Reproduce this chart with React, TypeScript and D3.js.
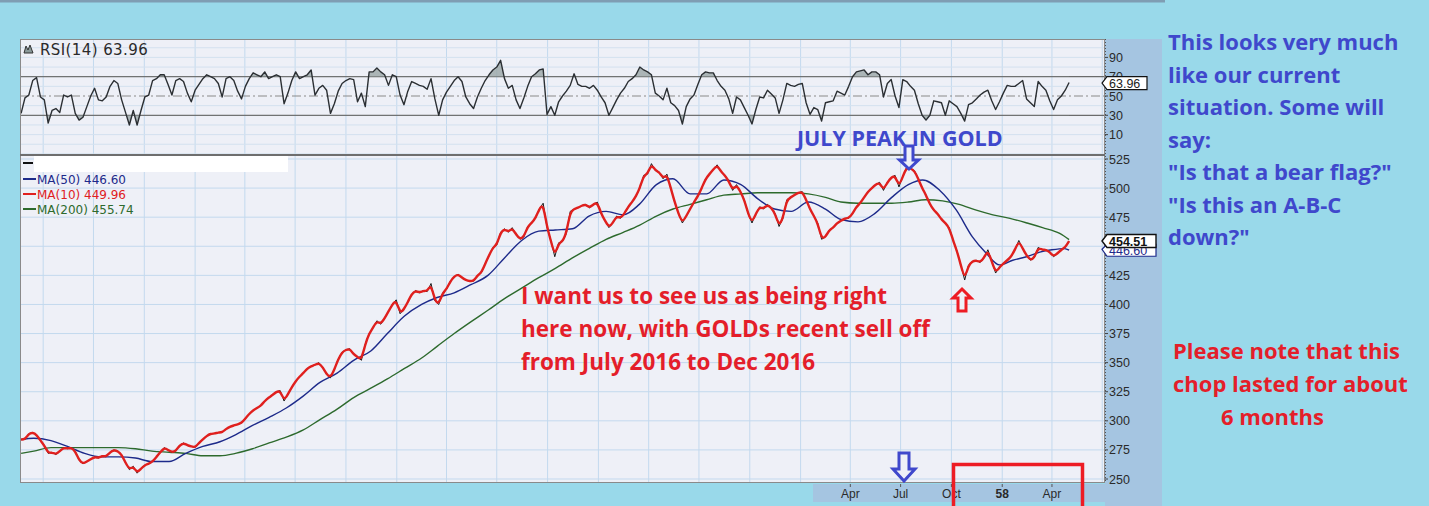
import React from "react";
import * as d3 from "d3";

// ---------- DATA (weekly closes from 1953-02-20) ----------
const START_WEEK = "1953-02-20";
const DOMAIN_START = "1953-02-18";
const DOMAIN_END = "1958-07-06";

const price1953 = [284,284,289,290,288, 283,279,272,273,271, 274,277,276,277,274, 266,263,265,267,269, 268,270,269,273,275, 274,271,264,258,261, 255,259,262,263,265, 269,273,277,275,273, 274,279,281,279,278];
const price1954 = [277,281,284,287,289, 289,290,290,293,295, 296,297,298,302,306, 309,311,313,317,320, 322,325,326,317,323, 329,334,338,341,345, 347,348,350,346,340, 337,344,353,359,361, 362,357,355,352,366, 375,380,386,383,388, 394,400,404];
const price1955 = [392,396,402,409,412, 410,412,411,418,403, 400,410,413,420,424, 426,423,421,420,420, 425,427,435,442,449, 451,462,465,462,466, 460,456,458,467,470, 474,482,487,466,455, 441,453,454,461,480, 482,483,485,486,483, 486,488];
const price1956 = [478,472,466,470,476, 474,478,484,488,493, 500,511,512,521,515, 514,508,512,500,488, 478,470,476,482,488, 493,500,508,512,516, 520,514,511,506,498, 503,497,490,478,470, 478,484,482,486,483, 478,467,474,490,492, 494,496];
const price1957 = [497,490,482,476,470, 456,458,464,466,470, 472,474,474,478,484, 487,492,497,500,503, 505,498,505,509,511, 501,510,518,517,515, 508,500,494,486,481, 478,473,470,466,455, 446,434,421,434,437, 438,436,440,447,437, 427,432];
const price1958 = [435,438,441,447,455, 448,442,438,440,449, 447,447,445,441,444, 447,449,454.51];

const rsi1953 = [32,48,51,66,69, 49,46,22,35,37, 33,51,49,51,32, 25,28,39,50,58, 46,45,49,60,66, 63,46,33,20,35, 20,35,49,51,66, 68,72,72,62,51, 66,68,65,53,44];
const rsi1954 = [56,62,68,72,70, 68,63,49,68,70, 66,55,47,60,68, 74,72,70,75,68, 70,72,70,42,53, 66,75,68,70,72, 77,51,58,61,56, 32,42,55,63,66, 68,67,44,53,39, 75,75,79,75,72, 61,72,70];
const rsi1955 = [51,41,55,65,63, 61,60,57,68,47, 30,46,54,60,66, 70,65,49,42,37, 49,58,66,72,77, 80,87,68,58,61, 46,37,48,60,70, 73,77,78,31,39, 30,44,50,55,61, 73,62,60,60,58, 61,56];
const rsi1956 = [49,43,30,38,46, 53,58,65,68,72, 80,77,75,72,53, 50,46,58,43,40, 35,21,39,47,51, 62,72,75,74,74, 66,60,56,47,32, 49,46,38,30,21, 36,49,48,56,52, 48,32,46,63,61, 60,62];
const rsi1957 = [63,43,31,38,36, 24,43,44,45,55, 53,51,60,70,75, 76,77,72,75,75, 72,49,63,67,50, 38,67,65,60,56, 42,30,25,30,45, 44,43,30,45,42, 39,32,24,41,43, 47,51,54,56,45, 36,44];
const rsi1958 = [53,61,60,60,63, 66,47,43,39,65, 60,56,45,36,46, 50,56,63.96];

const ma50Dates = ["1953-02-20","1953-03-15","1953-04-15","1953-05-15","1953-06-15","1953-07-15","1953-08-15","1953-09-15","1953-10-15","1953-11-15","1953-12-15",
  "1954-01-15","1954-02-15","1954-03-15","1954-04-15","1954-05-15","1954-06-15","1954-07-15","1954-08-15","1954-09-15","1954-10-15","1954-11-15","1954-12-15",
  "1955-01-15","1955-02-15","1955-03-15","1955-04-15","1955-05-15","1955-06-15","1955-07-15","1955-08-15","1955-09-15","1955-10-15","1955-11-15","1955-12-15",
  "1956-01-15","1956-02-15","1956-03-15","1956-04-15","1956-05-15","1956-06-15","1956-07-15","1956-08-15","1956-09-15","1956-10-15","1956-11-15","1956-12-15",
  "1957-01-15","1957-02-15","1957-03-15","1957-04-15","1957-05-15","1957-06-15","1957-07-15","1957-08-10","1957-09-10","1957-10-10","1957-11-08","1957-12-03","1957-12-27",
  "1958-01-20","1958-02-14","1958-03-10","1958-04-01","1958-04-24","1958-05-02"];
const ma50Values = [284,285,283,278,272,269,269,268,265,265,272,
  278,282,288,296,303,311,321,333,341,352,360,375,
  390,400,406,410,417,425,440,455,463,464,465,476,
  480,477,486,503,508,495,495,507,503,491,482,480,
  488,482,473,471,478,492,503,507,498,481,458,444,434,
  438,441,445,447,448,446.6];

const ma200Dates = ["1953-02-20","1953-03-15","1953-04-15","1953-06-15","1953-08-15","1953-09-15","1953-10-15","1953-11-15","1953-12-15",
  "1954-01-15","1954-02-15","1954-03-15","1954-04-15","1954-05-15","1954-06-15","1954-07-15","1954-08-15","1954-09-15","1954-10-15","1954-11-15","1954-12-15",
  "1955-01-15","1955-02-15","1955-03-15","1955-04-15","1955-05-15","1955-06-15","1955-07-15","1955-08-15","1955-09-15","1955-10-15","1955-11-15","1955-12-15",
  "1956-01-15","1956-02-15","1956-03-15","1956-04-15","1956-05-15","1956-06-15","1956-07-15","1956-08-15","1956-09-15","1956-10-15","1956-11-15","1956-12-15",
  "1957-01-15","1957-02-15","1957-03-15","1957-04-15","1957-05-15","1957-06-15","1957-07-15","1957-08-15","1957-09-15","1957-10-15","1957-11-15","1957-12-15",
  "1958-01-15","1958-02-15","1958-03-15","1958-04-15","1958-05-02"];
const ma200Values = [272,274,277,277,277,276,274,273,272,
  270,270,272,276,281,286,292,301,310,320,328,336,
  345,354,364,375,385,395,405,414,423,431,440,448,
  456,462,468,476,482,486,490,494,495,496,496,496,
  495,492,488,487,487,487,488,490,489,486,481,477,
  474,470,466,461,455.7];

const priceTicks = [250,275,300,325,350,375,400,425,450,475,500,525];
const rsiTicks = [10,30,50,70,90];
const rsiGrid = [-10,0,10,20,40,60,80,90,100];
const xLabelDates = ["1957-04-01","1957-07-01","1957-10-01","1958-01-01","1958-04-01"];
const xLabelTexts = ["Apr","Jul","Oct","58","Apr"];

const legendNames = ["MA(50) 446.60","MA(10) 449.96","MA(200) 455.74"];
const legendColors = ["#1d2a8a","#e0201e","#2d6a2d"];

const blueNote = ["This looks very much","like our current","situation. Some will","say:","\"Is that a bear flag?\"","\"Is this an A-B-C","down?\""];
const redMiddle = ["I want us to see us as being right","here now, with GOLDs recent sell off","from July 2016 to Dec 2016"];
const redNote = ["Please note that this","chop lasted for about","6 months"];

// ---------- COMPONENT ----------
const BG = "#99d9ea";
const PANEL = "#eef0f7";
const AXISBG = "#a5c5e1";
const GRID = "#c3d9ee";
const BLUE_TXT = "#3f48cc";
const RED_TXT = "#e41e2a";

function arrowDown(cx: number, top: number, bottom: number, sw: number, hw: number, hh: number) {
  return `M${cx - sw / 2},${top}L${cx + sw / 2},${top}L${cx + sw / 2},${bottom - hh}L${cx + hw / 2},${bottom - hh}L${cx},${bottom}L${cx - hw / 2},${bottom - hh}L${cx - sw / 2},${bottom - hh}Z`;
}
function arrowUp(cx: number, top: number, bottom: number, sw: number, hw: number, hh: number) {
  return `M${cx},${top}L${cx + hw / 2},${top + hh}L${cx + sw / 2},${top + hh}L${cx + sw / 2},${bottom}L${cx - sw / 2},${bottom}L${cx - sw / 2},${top + hh}L${cx - hw / 2},${top + hh}Z`;
}

export default function App() {
  const parse = d3.timeParse("%Y-%m-%d");
  const start = parse(START_WEEK)!;
  const prices = [...price1953, ...price1954, ...price1955, ...price1956, ...price1957, ...price1958];
  const rsi = [...rsi1953, ...rsi1954, ...rsi1955, ...rsi1956, ...rsi1957, ...rsi1958];
  const weeks = prices.map((_, i) => d3.timeDay.offset(start, 7 * i));

  const L = 20, R = 1105;
  const rsiTop = 39, rsiBot = 155, pTop = 155, pBot = 483;

  const x = d3.scaleTime().domain([parse(DOMAIN_START)!, parse(DOMAIN_END)!]).range([L, R]);
  const y = d3.scaleLinear().domain([250, 525]).range([479, 159]);
  const yr = d3.scaleLinear().domain([10, 90]).range([134.6, 57.4]);

  const quarters = x.ticks(d3.timeMonth.every(3)!);

  const priceSeries = prices.map((v, i) => ({ d: weeks[i], v }));
  const rsiSeries = rsi.map((v, i) => ({ d: weeks[i], v }));
  const ma50 = ma50Dates.map((s, i) => ({ d: parse(s)!, v: ma50Values[i] }));
  const ma200 = ma200Dates.map((s, i) => ({ d: parse(s)!, v: ma200Values[i] }));

  const lineP = d3.line<{ d: Date; v: number }>().x(p => x(p.d)).y(p => y(p.v));
  const lineSmooth = d3.line<{ d: Date; v: number }>().x(p => x(p.d)).y(p => y(p.v)).curve(d3.curveBasis);
  const lineMA = d3.line<{ d: Date; v: number }>().x(p => x(p.d)).y(p => y(p.v)).curve(d3.curveMonotoneX);
  const lineR = d3.line<{ d: Date; v: number }>().x(p => x(p.d)).y(p => yr(p.v));
  const areaHi = d3.area<{ d: Date; v: number }>().x(p => x(p.d)).y0(yr(70)).y1(p => yr(p.v));
  const areaLo = d3.area<{ d: Date; v: number }>().x(p => x(p.d)).y0(yr(30)).y1(p => yr(p.v));

  const font = "'DejaVu Sans', Verdana, sans-serif";
  const axisFont = "'Liberation Sans', Arial, sans-serif";
  const noteFont = "'Open Sans', Lato, sans-serif";

  return (
    <svg width={1429} height={506} style={{ position: "absolute", left: 0, top: 0, display: "block" }}>
      <defs>
        <clipPath id="clipRsi"><rect x={L} y={rsiTop} width={R - L} height={rsiBot - rsiTop} /></clipPath>
        <clipPath id="clipP"><rect x={L} y={pTop} width={R - L} height={pBot - pTop} /></clipPath>
        <clipPath id="clipAbove70"><rect x={L} y={rsiTop} width={R - L} height={yr(70) - rsiTop} /></clipPath>
        <clipPath id="clipBelow30"><rect x={L} y={yr(30)} width={R - L} height={rsiBot - yr(30)} /></clipPath>
      </defs>
      <rect x={0} y={0} width={1429} height={506} fill={BG} />
      <rect x={0} y={0} width={1165} height={2.5} fill="#7f9db3" />

      {/* right axis column and x band */}
      <rect x={R} y={rsiTop} width={57} height={506 - rsiTop} fill={AXISBG} />
      <rect x={813} y={484} width={R - 813} height={18} fill={AXISBG} />

      {/* panels */}
      <rect x={L} y={rsiTop} width={R - L} height={rsiBot - rsiTop} fill={PANEL} />
      <rect x={L} y={pTop} width={R - L} height={pBot - pTop} fill={PANEL} />

      {/* grids */}
      {quarters.map((q, i) => (
        <g key={"q" + i}>
          <line x1={x(q)} x2={x(q)} y1={rsiTop} y2={rsiBot} stroke={GRID} strokeWidth={1} />
          <line x1={x(q)} x2={x(q)} y1={pTop} y2={pBot} stroke={GRID} strokeWidth={1} />
        </g>
      ))}
      {rsiGrid.map(v => (
        <line key={"rg" + v} x1={L} x2={R} y1={yr(v)} y2={yr(v)} stroke="#d3e1ef" strokeWidth={1} />
      ))}
      {priceTicks.map(v => (
        <line key={"pg" + v} x1={L} x2={R} y1={y(v)} y2={y(v)} stroke={GRID} strokeWidth={1} />
      ))}

      {/* RSI */}
      <line x1={L} x2={R} y1={yr(70)} y2={yr(70)} stroke="#6b6b6b" strokeWidth={1.3} />
      <line x1={L} x2={R} y1={yr(30)} y2={yr(30)} stroke="#6b6b6b" strokeWidth={1.3} />
      <line x1={L} x2={R} y1={yr(50)} y2={yr(50)} stroke="#8a8a8a" strokeWidth={1.2} strokeDasharray="9,3,2,3" />
      <g clipPath="url(#clipRsi)">
        <path d={areaHi(rsiSeries)!} fill="#9aa6a6" opacity={0.8} clipPath="url(#clipAbove70)" />
        <path d={areaLo(rsiSeries)!} fill="#9aa6a6" opacity={0.8} clipPath="url(#clipBelow30)" />
        <path d={lineR(rsiSeries)!} fill="none" stroke="#2b2f33" strokeWidth={1.4} strokeLinejoin="round" />
      </g>
      <path d="M24,53 L26,46 L28,50 L30,45 L33,53 Z" fill="#8a9a9a" stroke="#333" strokeWidth={1} />
      <text x={40} y={54.5} fontFamily={font} fontSize={15} letterSpacing={0.4} fill="#2a2a2a">RSI(14) 63.96</text>

      {/* Price */}
      <g clipPath="url(#clipP)">
        <path d={lineMA(ma200)!} fill="none" stroke="#2d6a2d" strokeWidth={1.4} />
        <path d={lineMA(ma50)!} fill="none" stroke="#1d2a8a" strokeWidth={1.4} />
        <path d={lineP(priceSeries)!} fill="none" stroke="#1a1a1a" strokeWidth={1} />
        <path d={lineSmooth(priceSeries)!} fill="none" stroke="#e0201e" strokeWidth={2.4} strokeLinejoin="round" />
      </g>

      {/* panel borders */}
      <rect x={L + 0.5} y={rsiTop + 0.5} width={R - L - 1} height={pBot - rsiTop - 1} fill="none" stroke="#8a8a8a" strokeWidth={1} />
      <line x1={L} x2={R} y1={pTop} y2={pTop} stroke="#6e6e6e" strokeWidth={2} />
      <line x1={R + 0.5} x2={R + 0.5} y1={rsiTop} y2={pBot} stroke="#555" strokeWidth={1} strokeDasharray="1,2" />

      {/* legend */}
      <rect x={34} y={156} width={254} height={16} fill="#ffffff" />
      <line x1={23} x2={33} y1={163} y2={163} stroke="#111" strokeWidth={2} />
      {legendNames.map((n, i) => (
        <g key={n}>
          <line x1={23} x2={36} y1={179 + i * 15} y2={179 + i * 15} stroke={legendColors[i]} strokeWidth={2} />
          <text x={37} y={184 + i * 15} fontFamily={font} fontSize={12} fill={legendColors[i]}>{n}</text>
        </g>
      ))}

      {/* right axis labels */}
      {priceTicks.map(v => (
        <g key={"pt" + v}>
          <line x1={R} x2={R + 3} y1={y(v)} y2={y(v)} stroke="#444" />
          <text x={R + 4} y={y(v) + 4.5} fontFamily={axisFont} fontSize={12.5} fill="#2a2a2a">{v}</text>
        </g>
      ))}
      {rsiTicks.map(v => (
        <g key={"rt" + v}>
          <line x1={R} x2={R + 3} y1={yr(v)} y2={yr(v)} stroke="#444" />
          <text x={R + 4} y={yr(v) + 4.5} fontFamily={axisFont} fontSize={12.5} fill="#2a2a2a">{v}</text>
        </g>
      ))}
      {/* value boxes */}
      <path d={`M${R - 3},${yr(63.96) + 0.5}L${R + 2},${yr(63.96) - 6}L${R + 42},${yr(63.96) - 6}L${R + 42},${yr(63.96) + 7}L${R + 2},${yr(63.96) + 7}Z`} fill="#fff" stroke="#111" strokeWidth={1.2} />
      <text x={R + 4} y={yr(63.96) + 5} fontFamily={axisFont} fontSize={12.5} fill="#222">63.96</text>
      <path d={`M${R - 3},${y(446.6) - 1}L${R + 2},${y(446.6) - 6}L${R + 51},${y(446.6) - 6}L${R + 51},${y(446.6) + 6}L${R + 2},${y(446.6) + 6}Z`} fill="#fff" stroke="#1d2a8a" strokeWidth={1.2} />
      <text x={R + 4} y={y(446.6) + 5} fontFamily={axisFont} fontSize={12.5} fill="#1d2a8a">446.60</text>
      <path d={`M${R - 3},${y(454.51)}L${R + 2},${y(454.51) - 6.5}L${R + 51},${y(454.51) - 6.5}L${R + 51},${y(454.51) + 6.5}L${R + 2},${y(454.51) + 6.5}Z`} fill="#fff" stroke="#111" strokeWidth={1.4} />
      <text x={R + 4} y={y(454.51) + 5} fontFamily={axisFont} fontSize={12.5} fontWeight={700} fill="#111">454.51</text>

      {/* x axis labels */}
      {xLabelDates.map((s, i) => {
        const d = parse(s)!;
        return (
          <g key={"xl" + i}>
            <line x1={x(d)} x2={x(d)} y1={484} y2={487} stroke="#555" />
            <text x={x(d)} y={498} textAnchor="middle" fontFamily={axisFont} fontSize={12} fontWeight={xLabelTexts[i] === "58" ? 700 : 400} fill="#2a2a2a">{xLabelTexts[i]}</text>
          </g>
        );
      })}

      {/* annotations */}
      <text x={797} y={146} fontFamily={noteFont} fontWeight={700} fontSize={21.5} fill={BLUE_TXT}>JULY PEAK IN GOLD</text>
      <path d={arrowDown(909, 146, 169, 8, 19, 9)} fill={PANEL} stroke={BLUE_TXT} strokeWidth={3} strokeLinejoin="miter" />
      <path d={arrowDown(904, 453, 481, 10, 22, 12)} fill={PANEL} stroke={BLUE_TXT} strokeWidth={3} />
      <path d={arrowUp(962, 289, 311, 8, 18, 9)} fill={PANEL} stroke="#ed1c24" strokeWidth={3} />
      <rect x={953.5} y={464.5} width={129} height={50} fill="none" stroke="#ed1c24" strokeWidth={3.5} />

      {redMiddle.map((t, i) => (
        <text key={"rm" + i} x={521} y={303.5 + i * 33.3} fontFamily={noteFont} fontWeight={700} fontSize={22.5} fill={RED_TXT}>{t}</text>
      ))}
      {blueNote.map((t, i) => (
        <text key={"bn" + i} x={1168} y={50 + i * 32.5} fontFamily={noteFont} fontWeight={700} fontSize={22} fill={BLUE_TXT}>{t}</text>
      ))}
      {redNote.map((t, i) => (
        <text key={"rn" + i} x={i === 2 ? 1221 : 1173} y={359 + i * 33} fontFamily={noteFont} fontWeight={700} fontSize={22} fill={RED_TXT}>{t}</text>
      ))}
    </svg>
  );
}
